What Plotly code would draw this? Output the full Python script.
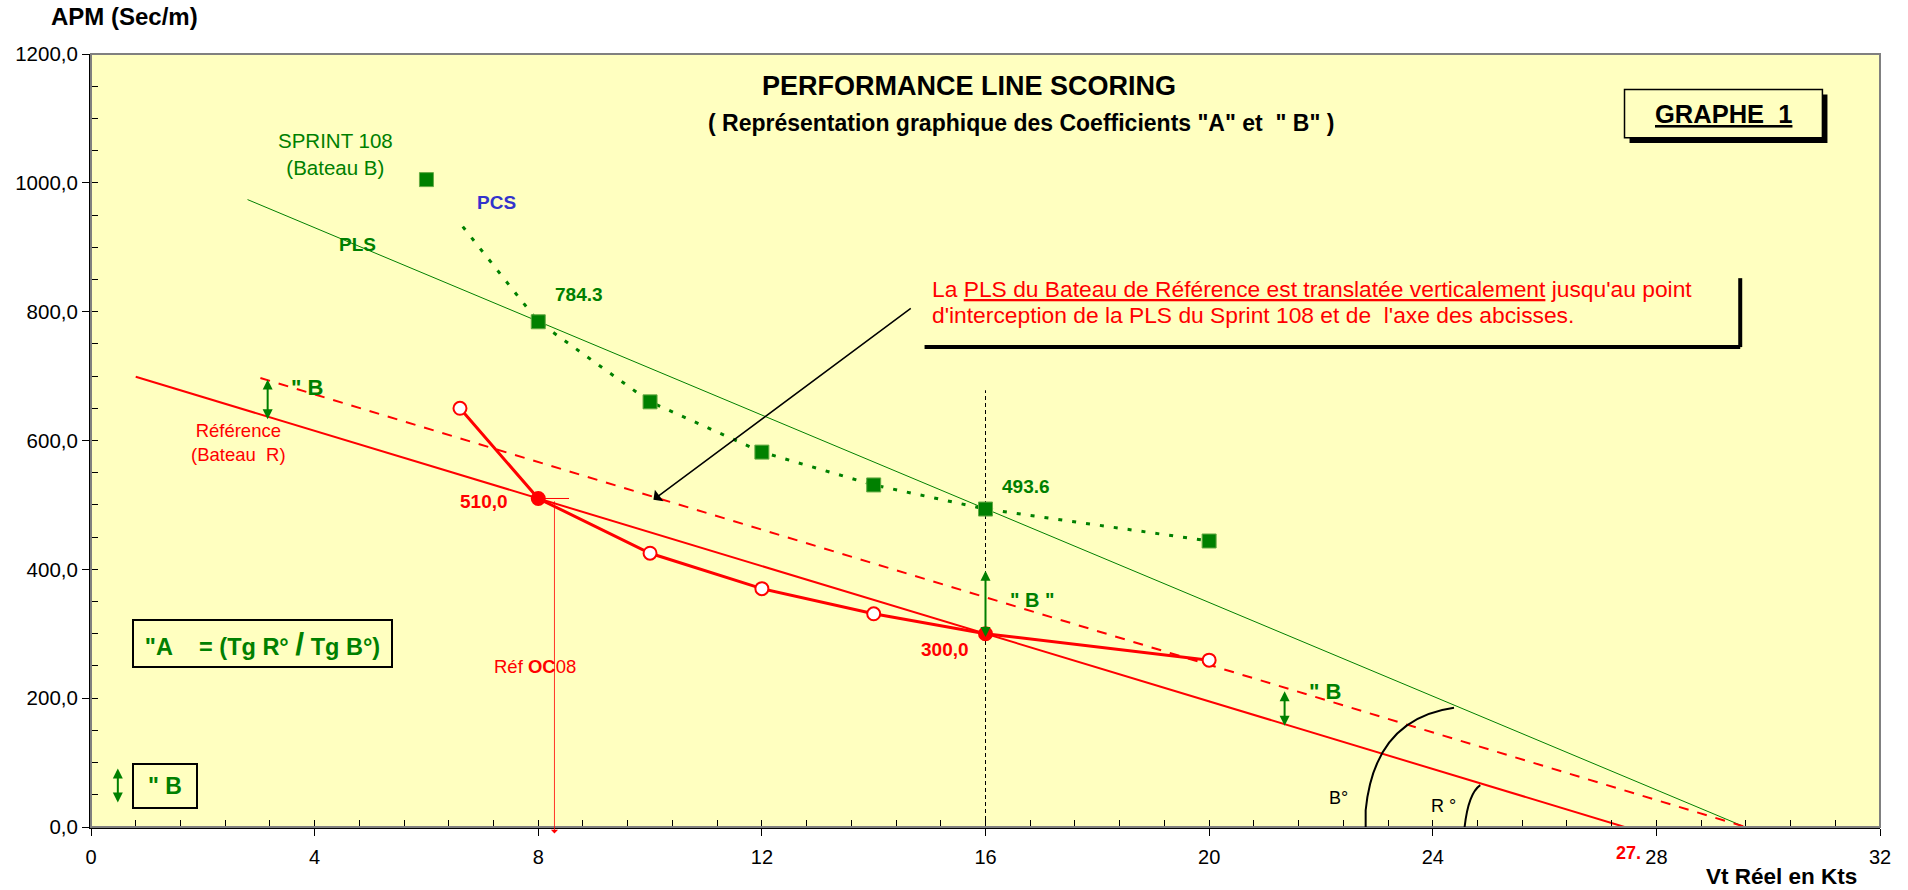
import plotly.graph_objects as go

# ---------------- data ----------------
sprint_x = [6, 8, 10, 12, 14, 16, 20]
sprint_y = [1005, 784.3, 660, 582, 531, 493.6, 444]
pcs_x = [6.65, 8, 10, 12, 14, 16, 20]
pcs_y = [932, 784.3, 660, 582, 531, 493.6, 444]
ref_x = [6.6, 8, 10, 12, 14, 16, 20]
ref_y = [650, 510, 425, 370, 331, 300, 259]
ref_key_x = [8, 16]
ref_key_y = [510.0, 300.0]
pls_b_x = [2.8, 29.75]
pls_b_y = [974, -6]
pls_r_x = [0.8, 27.7]
pls_r_y = [699, -7]
pls_rt_x = [3.03, 29.9]
pls_rt_y = [697, -8]
vline16_x = [16, 16]
vline16_y = [0, 678]
x_ticks = [0, 4, 8, 12, 16, 20, 24, 28, 32]
y_ticks = [0, 200, 400, 600, 800, 1000, 1200]

FONT = "Liberation Sans, Arial, sans-serif"
GREEN = "#008000"
RED = "#FF0000"
BG = "#FFFFC0"

fig = go.Figure()
fig.add_trace(go.Scatter(x=pls_b_x, y=pls_b_y, mode="lines",
                         line=dict(color=GREEN, width=1), hoverinfo="skip"))
fig.add_trace(go.Scatter(x=pls_r_x, y=pls_r_y, mode="lines",
                         line=dict(color=RED, width=2), hoverinfo="skip"))
fig.add_trace(go.Scatter(x=pls_rt_x, y=pls_rt_y, mode="lines",
                         line=dict(color=RED, width=2, dash="10px,9px"), hoverinfo="skip"))
fig.add_trace(go.Scatter(x=vline16_x, y=vline16_y, mode="lines",
                         line=dict(color="black", width=1, dash="4px,3px"), hoverinfo="skip"))
fig.add_trace(go.Scatter(x=pcs_x, y=pcs_y, mode="lines",
                         line=dict(color=GREEN, width=3, dash="4px,10px"), hoverinfo="skip"))
fig.add_trace(go.Scatter(x=sprint_x, y=sprint_y, mode="markers",
                         marker=dict(symbol="square", size=14, color=GREEN,
                                     line=dict(color="#66aa44", width=1))))
fig.add_trace(go.Scatter(x=ref_x, y=ref_y, mode="lines+markers",
                         line=dict(color=RED, width=3),
                         marker=dict(symbol="circle", size=13, color="white",
                                     line=dict(color=RED, width=2))))
fig.add_trace(go.Scatter(x=ref_key_x, y=ref_key_y, mode="markers",
                         marker=dict(symbol="circle", size=12, color=RED,
                                     line=dict(color=RED, width=1))))

ann = []


def txt(x, y, t, color, size, bold=False, xa="center", ya="middle", **kw):
    d = dict(x=x, y=y, xref="x", yref="y", text=t, showarrow=False,
             xanchor=xa, yanchor=ya,
             font=dict(family=FONT, size=size, color=color,
                       weight="bold" if bold else "normal"))
    d.update(kw)
    ann.append(d)


def darrow(x, y0, y1):
    ann.append(dict(x=x, y=y1, ax=x, ay=y0, xref="x", yref="y", axref="x", ayref="y",
                    text="", showarrow=True, arrowhead=2, startarrowhead=2,
                    arrowside="end+start", arrowcolor=GREEN, arrowwidth=2,
                    arrowsize=1, startarrowsize=1, standoff=0, startstandoff=0))


def ptxt(x, y, t, size, bold=True, color="black", xa="center", xref="paper"):
    ann.append(dict(x=x, y=y, xref=xref, yref="paper", text=t, showarrow=False,
                    xanchor=xa, yanchor="middle",
                    font=dict(family=FONT, size=size, color=color,
                              weight="bold" if bold else "normal")))


# labels
txt(4.375, 1045, "SPRINT 108<br>(Bateau B)", GREEN, 20.5)
txt(7.25, 969, "PCS", "#3333CC", 19, True)
txt(4.77, 905, "PLS", GREEN, 19, True)
txt(8.27, 826, "784.3", GREEN, 19, True, xa="left")
txt(16.26, 529, "493.6", GREEN, 19, True, xa="left")
txt(3.55, 682, "\" B", GREEN, 22, True, xa="left")
darrow(3.16, 697, 633)
txt(2.63, 597, "Référence<br>(Bateau  R)", RED, 18.5)
txt(7.5, 505, "510,0", RED, 19, True, xa="right")
txt(15.74, 276, "300,0", RED, 19, True, xa="right")
txt(7.95, 249, "Réf <b>OC</b>08", RED, 18.5)
txt(16.41, 352, "\" B \"", GREEN, 20, True, xa="left")
darrow(16, 400, 295)
txt(21.75, 210, "\" B", GREEN, 22, True, xa="left")
darrow(21.35, 213, 157)
txt(22.31, 45, "B°", "black", 18)
txt(24.2, 32, "R °", "black", 18)
ptxt(27.5, -0.033, "27.", 18, color=RED, xref="x")

# "A box
ann.append(dict(x=3.06, y=285, xref="x", yref="y", showarrow=False,
                xanchor="center", yanchor="middle",
                text="\"A\u00a0\u00a0\u00a0 = (Tg R° <span style=\"font-size:32px\">/</span> Tg B°)",
                font=dict(family=FONT, size=23.5, color=GREEN, weight="bold"),
                bordercolor="black", borderwidth=2, borderpad=0,
                width=257, height=45, align="center"))
# "B box
ann.append(dict(x=1.32, y=64, xref="x", yref="y", showarrow=False,
                xanchor="center", yanchor="middle",
                text="\" B", font=dict(family=FONT, size=23, color=GREEN, weight="bold"),
                bordercolor="black", borderwidth=2, borderpad=0, width=62, height=42))
darrow(0.48, 93, 38)

# red explanation text (two lines)
txt(15.0, 835,
    "La <u>PLS du Bateau de Référence est translatée verticalement</u> jusqu'au point",
    RED, 22.8, xa="left")
txt(15.0, 795.5,
    "d'interception de la PLS du Sprint 108 et de  l'axe des abcisses.",
    RED, 22.8, xa="left")
# black arrow
ann.append(dict(x=10.06, y=508, ax=14.69, ay=807, xref="x", yref="y", axref="x", ayref="y",
                text="", showarrow=True, arrowhead=1, arrowsize=1.6, arrowwidth=1.5,
                arrowcolor="black", standoff=0))
# red vertical arrow (Réf OC08)
ann.append(dict(x=8.29, y=-10, ax=8.29, ay=508, xref="x", yref="y", axref="x", ayref="y",
                text="", showarrow=True, arrowhead=1, arrowsize=1.5, arrowwidth=0.8,
                arrowcolor=RED, standoff=0))

# GRAPHE 1
txt(29.2, 1107, "<u>GRAPHE\u00a0\u00a01</u>", "black", 25.5, True)

# titles / axis titles
ptxt(0.491, 0.959, "PERFORMANCE LINE SCORING", 27)
ptxt(0.520, 0.911, "( Représentation graphique des Coefficients \"A\" et  \" B\" )", 23)
ptxt(-0.0236, 1.048, "APM (Sec/m)", 24, xa="left")
ptxt(0.945, -0.0634, "Vt Réel en Kts", 22.5)

shapes = [
    # plot border
    dict(type="rect", xref="paper", yref="paper", x0=0, x1=1, y0=0, y1=1,
         line=dict(color="#808080", width=2)),
    # GRAPHE box shadow + box
    dict(type="rect", xref="x", yref="y", x0=27.52, x1=31.06, y0=1062, y1=1137,
         fillcolor="black", line=dict(width=0)),
    dict(type="rect", xref="x", yref="y", x0=27.43, x1=30.97, y0=1070, y1=1145,
         fillcolor=BG, line=dict(color="black", width=1.5)),
    # explanation box shadow
    dict(type="line", xref="x", yref="y", x0=14.91, x1=29.5, y0=745, y1=745,
         line=dict(color="black", width=4)),
    dict(type="line", xref="x", yref="y", x0=29.5, x1=29.5, y0=745, y1=852,
         line=dict(color="black", width=4)),
    # small red tick at 510
    dict(type="line", xref="x", yref="y", x0=8.0, x1=8.55, y0=510, y1=510,
         line=dict(color=RED, width=1)),
    # angle arcs
    dict(type="path", xref="x", yref="y",
         path="M 22.8,-20 L 22.8,26 Q 22.96,168 24.38,185",
         line=dict(color="black", width=2)),
    dict(type="path", xref="x", yref="y",
         path="M 24.55,-20 Q 24.6,50 24.85,65",
         line=dict(color="black", width=2)),
]

fig.update_layout(
    width=1908, height=890,
    margin=dict(l=91, r=28, t=54, b=63),
    paper_bgcolor="white", plot_bgcolor=BG,
    showlegend=False, separators=", ",
    font=dict(family=FONT, size=19, color="black"),
    annotations=ann, shapes=shapes,
    xaxis=dict(range=[0, 32], tickvals=x_ticks, ticktext=[str(v) for v in x_ticks],
               showgrid=False, zeroline=False, showline=True, linecolor="black", linewidth=2,
               ticks="outside", ticklen=7, tickcolor="black", tickwidth=1,
               ticklabelstandoff=4,
               minor=dict(dtick=0.8, tick0=0, ticks="inside", ticklen=7,
                          tickcolor="black", tickwidth=1, showgrid=False),
               tickfont=dict(size=20)),
    yaxis=dict(range=[0, 1200], tickvals=y_ticks, tickformat=".1f",
               showgrid=False, zeroline=False, showline=True, linecolor="black", linewidth=2,
               ticks="outside", ticklen=7, tickcolor="black", tickwidth=1,
               minor=dict(dtick=50, tick0=0, ticks="inside", ticklen=7,
                          tickcolor="black", tickwidth=1, showgrid=False),
               tickfont=dict(size=20.5)),
)

fig.write_html("out.html", config={"displayModeBar": False},
               post_script="document.body.style.margin='0';")
